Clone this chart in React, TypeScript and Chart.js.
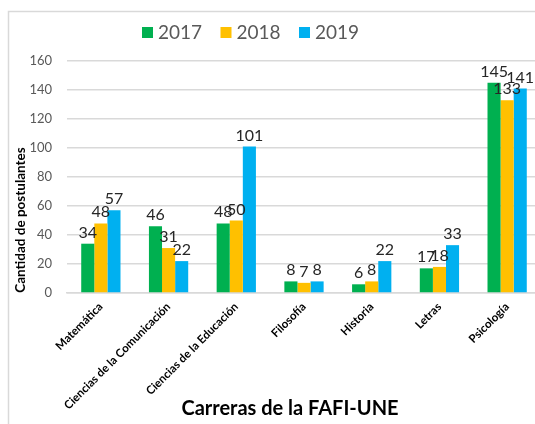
import React, { useEffect, useRef } from "react";
import { Chart, registerables } from "chart.js";

Chart.register(...registerables);

const categories = [
  "Matemática",
  "Ciencias de la Comunicación",
  "Ciencias de la Educación",
  "Filosofía",
  "Historia",
  "Letras",
  "Psicología",
];
const seriesNames = ["2017", "2018", "2019"];
const values2017 = [34, 46, 48, 8, 6, 17, 145];
const values2018 = [48, 31, 50, 7, 8, 18, 133];
const values2019 = [57, 22, 101, 8, 22, 33, 141];
const seriesColors = ["#00b050", "#ffc000", "#00b0f0"];
const yTicks = [0, 20, 40, 60, 80, 100, 120, 140, 160];
const yTitle = "Cantidad de postulantes";
const xTitle = "Carreras de la FAFI-UNE";

const FONT = "Lato, 'Open Sans', sans-serif";

const decorPlugin = {
  id: "decor",
  beforeDraw(chart: any) {
    const ctx = chart.ctx;
    ctx.save();
    ctx.strokeStyle = "#d9d9d9";
    ctx.lineWidth = 1.5;
    ctx.strokeRect(8.5, 11.5, 700, 700);
    ctx.restore();
  },
  afterDraw(chart: any) {
    const ctx = chart.ctx;
    ctx.save();
    // data labels
    ctx.font = `16px ${FONT}`;
    ctx.fillStyle = "#262626";
    ctx.textAlign = "center";
    ctx.textBaseline = "alphabetic";
    chart.data.datasets.forEach((ds: any, i: number) => {
      const meta = chart.getDatasetMeta(i);
      meta.data.forEach((bar: any, j: number) => {
        ctx.fillText(String(ds.data[j]), bar.x, bar.y - 6);
      });
    });
    // legend
    ctx.font = `19px ${FONT}`;
    ctx.textAlign = "left";
    ctx.textBaseline = "middle";
    const startX = 142;
    seriesNames.forEach((name, i) => {
      const x = startX + i * 78.5;
      ctx.fillStyle = seriesColors[i];
      ctx.fillRect(x, 27, 11, 11);
      ctx.fillStyle = "#595959";
      ctx.fillText(name, x + 16, 33);
    });
    // y title
    ctx.save();
    ctx.translate(21, 220);
    ctx.rotate(-Math.PI / 2);
    ctx.font = `bold 13.5px ${FONT}`;
    ctx.fillStyle = "#000000";
    ctx.textAlign = "center";
    ctx.textBaseline = "middle";
    ctx.fillText(yTitle, 0, 0);
    ctx.restore();
    // x title
    ctx.font = `bold 20px ${FONT}`;
    ctx.fillStyle = "#000000";
    ctx.textAlign = "center";
    ctx.textBaseline = "middle";
    ctx.fillText(xTitle, 290, 409);
    ctx.restore();
  },
};

export default function App() {
  const ref = useRef<HTMLCanvasElement | null>(null);
  useEffect(() => {
    if (!ref.current) return;
    const chart = new Chart(ref.current, {
      type: "bar",
      data: {
        labels: categories,
        datasets: [values2017, values2018, values2019].map((d, i) => ({
          label: seriesNames[i],
          data: d,
          backgroundColor: seriesColors[i],
          borderWidth: 0,
          barPercentage: 1,
          categoryPercentage: 0.58,
        })),
      },
      options: {
        animation: false,
        responsive: false,
        maintainAspectRatio: false,
        layout: { padding: { top: 61, right: 9, left: 0, bottom: 0 } },
        plugins: {
          legend: { display: false },
          tooltip: { enabled: false },
        },
        scales: {
          x: {
            grid: { display: false, drawTicks: false },
            border: { color: "#d9d9d9", width: 1.5 },
            ticks: {
              minRotation: 45,
              maxRotation: 45,
              autoSkip: false,
              padding: 7,
              color: "#000000",
              font: { family: FONT, size: 11.5, weight: "bold" },
            },
            afterFit(scale: any) {
              scale.height = 131;
            },
          },
          y: {
            min: 0,
            max: 160,
            afterBuildTicks(scale: any) {
              scale.ticks = yTicks.map((v) => ({ value: v }));
            },
            grid: { color: "#d9d9d9", lineWidth: 1.5, drawTicks: false },
            border: { display: false },
            ticks: {
              padding: 15,
              color: "#595959",
              font: { family: FONT, size: 13 },
            },
            afterFit(scale: any) {
              scale.width = 67;
            },
          },
        },
      },
      plugins: [decorPlugin],
    });
    return () => chart.destroy();
  }, []);
  return (
    <div
      style={{
        position: "fixed",
        left: 0,
        top: 0,
        width: 535,
        height: 424,
        overflow: "hidden",
        background: "#ffffff",
      }}
    >
      <canvas ref={ref} width={550} height={424} style={{ display: "block" }} />
    </div>
  );
}
